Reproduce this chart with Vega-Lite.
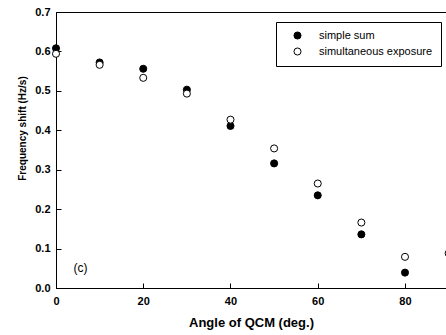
{
  "$schema": "https://vega.github.io/schema/vega-lite/v6.json",
  "width": 390,
  "height": 276,
  "autosize": {"type": "none"},
  "padding": {"left": 56, "top": 12, "right": 0, "bottom": 47},
  "background": "white",
  "config": {
    "font": "Liberation Sans",
    "view": {"stroke": "black", "strokeWidth": 1},
    "axis": {
      "domainColor": "black",
      "domainWidth": 1,
      "tickColor": "black",
      "tickWidth": 1,
      "tickSize": -5,
      "grid": false,
      "labelOverlap": false,
      "labelFlush": false,
      "labelBound": false,
      "labelFont": "Liberation Sans",
      "labelFontWeight": "bold",
      "labelFontSize": 11,
      "labelColor": "black",
      "titleFont": "Liberation Sans",
      "titleFontWeight": "bold",
      "titleColor": "black"
    },
    "legend": {
      "orient": "none",
      "legendX": 220,
      "legendY": 10,
      "strokeColor": "black",
      "fillColor": "white",
      "padding": 8,
      "symbolStrokeColor": "black",
      "symbolStrokeWidth": 1,
      "symbolSize": 50,
      "symbolType": "circle",
      "labelFont": "Liberation Sans",
      "labelFontSize": 11,
      "labelColor": "black",
      "rowPadding": 3,
      "symbolOffset": 8,
      "labelOffset": 16
    }
  },
  "encoding": {
    "x": {
      "field": "angle",
      "type": "quantitative",
      "scale": {"domain": [0, 89.4], "nice": false},
      "axis": {
        "values": [0, 20, 40, 60, 80],
        "labelPadding": 12,
        "title": "Angle of QCM (deg.)",
        "titleFontSize": 13,
        "titleBaseline": "top",
        "titleY": 28
      }
    },
    "y": {
      "field": "shift",
      "type": "quantitative",
      "scale": {"domain": [0, 0.7], "nice": false},
      "axis": {
        "values": [0, 0.1, 0.2, 0.3, 0.4, 0.5, 0.6, 0.7],
        "format": ".1f",
        "labelPadding": 11,
        "title": "Frequency shift (Hz/s)",
        "titleFontSize": 10,
        "titleAngle": -90,
        "titleAlign": "center",
        "titleBaseline": "bottom",
        "titleX": -29,
        "titleY": 116
      }
    }
  },
  "layer": [
    {
      "data": {
        "values": [
          {"angle": 0, "shift": 0.608, "series": "simple sum"},
          {"angle": 10, "shift": 0.572, "series": "simple sum"},
          {"angle": 20, "shift": 0.556, "series": "simple sum"},
          {"angle": 30, "shift": 0.503, "series": "simple sum"},
          {"angle": 40, "shift": 0.411, "series": "simple sum"},
          {"angle": 50, "shift": 0.316, "series": "simple sum"},
          {"angle": 60, "shift": 0.235, "series": "simple sum"},
          {"angle": 70, "shift": 0.136, "series": "simple sum"},
          {"angle": 80, "shift": 0.039, "series": "simple sum"},
          {"angle": 0, "shift": 0.594, "series": "simultaneous exposure"},
          {"angle": 10, "shift": 0.566, "series": "simultaneous exposure"},
          {"angle": 20, "shift": 0.533, "series": "simultaneous exposure"},
          {"angle": 30, "shift": 0.493, "series": "simultaneous exposure"},
          {"angle": 40, "shift": 0.427, "series": "simultaneous exposure"},
          {"angle": 50, "shift": 0.354, "series": "simultaneous exposure"},
          {"angle": 60, "shift": 0.265, "series": "simultaneous exposure"},
          {"angle": 70, "shift": 0.166, "series": "simultaneous exposure"},
          {"angle": 80, "shift": 0.079, "series": "simultaneous exposure"},
          {"angle": 90, "shift": 0.088, "series": "simultaneous exposure"}
        ]
      },
      "mark": {"type": "point", "filled": true, "size": 50, "stroke": "black", "strokeWidth": 1, "opacity": 1},
      "encoding": {
        "fill": {
          "field": "series",
          "type": "nominal",
          "scale": {"domain": ["simple sum", "simultaneous exposure"], "range": ["black", "white"]},
          "legend": {"title": null}
        }
      }
    },
    {
      "data": {"values": [{"angle": 5.6, "shift": 0.051, "label": "(c)"}]},
      "mark": {"type": "text", "fontSize": 12, "font": "Liberation Sans", "color": "black", "align": "center", "baseline": "middle"},
      "encoding": {
        "text": {"field": "label"}
      }
    }
  ]
}
